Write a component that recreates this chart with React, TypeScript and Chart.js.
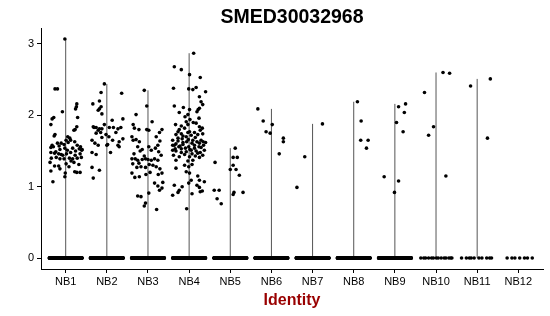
import React, { useEffect, useRef } from 'react';
import { Chart, registerables } from 'chart.js';

Chart.register(...registerables);

const chartTitle = 'SMED30032968';
const xAxisTitle = 'Identity';
const categories = ['NB1', 'NB2', 'NB3', 'NB4', 'NB5', 'NB6', 'NB7', 'NB8', 'NB9', 'NB10', 'NB11', 'NB12'];
const yTicks = [0, 1, 2, 3];

// number of cells with zero expression per identity
const zeroCounts = [320, 320, 320, 320, 300, 280, 280, 280, 280, 14, 10, 7];

// non-zero cells: [jitter (category units), expression value]
const nb1Points: [number, number][] = [
  [-0.02, 3.07], [-0.26, 2.37], [-0.2, 2.37], [0.27, 2.16], [0.26, 2.12], [0.24, 2.09], [-0.08, 2.05],
  [-0.29, 1.97], [-0.33, 1.95], [-0.36, 1.87], [0.29, 1.97], [0.27, 1.84], [0.23, 1.8], [0.2, 1.79],
  [-0.26, 1.73], [-0.28, 1.71], [0.05, 1.7], [0.1, 1.68], [0.01, 1.65], [0.12, 1.65], [-0.2, 1.61],
  [-0.11, 1.61], [-0.04, 1.59], [-0.33, 1.58], [-0.3, 1.56], [-0.36, 1.55], [0.22, 1.63], [0.28, 1.58],
  [0.36, 1.56], [-0.14, 1.52], [-0.02, 1.54], [0.04, 1.51], [0.17, 1.54], [0.24, 1.5], [0.33, 1.53],
  [0.39, 1.51], [0.4, 1.52], [-0.36, 1.48], [-0.27, 1.47], [-0.17, 1.46], [-0.07, 1.44], [0.02, 1.46],
  [0.12, 1.48], [0.23, 1.44], [0.35, 1.46], [-0.35, 1.4], [-0.23, 1.41], [-0.14, 1.39], [-0.04, 1.39],
  [0.09, 1.4], [0.17, 1.39], [0.28, 1.4], [0.38, 1.41], [-0.38, 1.34], [-0.27, 1.29], [-0.17, 1.29],
  [0.01, 1.32], [0.08, 1.28], [0.2, 1.34], [0.32, 1.31], [-0.36, 1.22], [-0.01, 1.19], [-0.02, 1.14],
  [0.22, 1.21], [0.27, 1.2], [0.35, 1.2], [-0.31, 1.07], [-0.16, 1.57], [0.06, 1.62], [-0.11, 1.45],
  [0.13, 1.36], [-0.24, 1.49], [-0.14, 1.25],
];
const nb2Points: [number, number][] = [
  [-0.06, 2.44], [-0.14, 2.32], [0.36, 2.31], [-0.18, 2.2], [-0.34, 2.16], [-0.14, 2.12], [-0.18, 2.09],
  [-0.21, 2.07], [-0.12, 2.02], [0.39, 1.95], [0.13, 1.93], [-0.06, 1.87], [-0.31, 1.83], [-0.26, 1.83],
  [-0.18, 1.81], [-0.21, 1.79], [-0.12, 1.81], [0.06, 1.83], [0.16, 1.83], [0.27, 1.81], [0.34, 1.83],
  [-0.33, 1.84], [-0.15, 1.76], [-0.02, 1.73], [0.22, 1.76], [-0.26, 1.75], [-0.12, 1.69], [0.05, 1.7],
  [0.14, 1.65], [0.39, 1.67], [0.3, 1.63], [-0.36, 1.65], [-0.29, 1.61], [-0.21, 1.58], [0.02, 1.59],
  [0.0, 1.58], [0.27, 1.58], [0.3, 1.56], [0.09, 1.48], [-0.26, 1.45], [-0.36, 1.48], [-0.36, 1.27],
  [-0.18, 1.23], [-0.33, 1.12],
];
const nb3Points: [number, number][] = [
  [-0.09, 2.35], [-0.03, 2.13], [-0.29, 2.01], [0.1, 1.91], [-0.36, 1.87], [-0.33, 1.82], [-0.22, 1.8],
  [0.34, 1.8], [0.28, 1.76], [-0.03, 1.8], [0.02, 1.79], [-0.39, 1.7], [-0.29, 1.66], [-0.21, 1.63],
  [-0.36, 1.65], [0.2, 1.7], [0.29, 1.64], [0.24, 1.58], [-0.25, 1.56], [-0.14, 1.52], [-0.19, 1.5],
  [0.02, 1.56], [0.08, 1.51], [0.18, 1.54], [0.26, 1.49], [0.32, 1.44], [-0.39, 1.39], [-0.31, 1.39],
  [-0.25, 1.37], [-0.14, 1.38], [-0.06, 1.39], [0.0, 1.38], [0.08, 1.37], [0.16, 1.39], [0.24, 1.37],
  [-0.37, 1.32], [-0.27, 1.27], [-0.17, 1.28], [-0.06, 1.27], [0.03, 1.31], [0.12, 1.3], [0.2, 1.28],
  [-0.39, 1.19], [-0.32, 1.13], [-0.21, 1.14], [-0.05, 1.17], [0.05, 1.2], [0.25, 1.17], [0.34, 1.19],
  [0.16, 1.05], [0.24, 1.01], [0.28, 0.95], [0.34, 0.98], [0.02, 0.91], [-0.25, 0.87], [-0.17, 0.86],
  [-0.09, 0.73], [-0.06, 0.77], [0.21, 0.68], [-0.34, 1.46], [-0.09, 1.43], [-0.22, 1.33], [0.29, 1.25],
  [0.36, 1.06],
];
const nb4Points: [number, number][] = [
  [0.11, 2.87], [-0.36, 2.68], [-0.19, 2.64], [0.01, 2.57], [0.27, 2.53], [-0.38, 2.38], [-0.01, 2.37],
  [0.09, 2.36], [0.17, 2.39], [0.4, 2.33], [0.25, 2.26], [-0.36, 2.13], [-0.14, 2.11], [-0.24, 2.04],
  [0.01, 2.08], [-0.03, 2.01], [0.29, 2.19], [0.33, 2.15], [0.25, 2.1], [0.22, 2.08], [0.19, 2.05],
  [-0.33, 1.87], [-0.07, 1.91], [0.02, 1.94], [-0.03, 1.87], [0.24, 1.96], [0.17, 1.89], [0.25, 1.84],
  [0.32, 1.82], [-0.24, 1.8], [-0.11, 1.82], [0.01, 1.77], [0.13, 1.76], [-0.32, 1.73], [-0.19, 1.74],
  [-0.07, 1.7], [0.05, 1.72], [0.21, 1.73], [0.33, 1.74], [-0.4, 1.65], [-0.27, 1.64], [-0.17, 1.67],
  [-0.06, 1.63], [0.09, 1.65], [0.19, 1.63], [0.29, 1.65], [0.4, 1.62], [-0.36, 1.58], [-0.25, 1.56],
  [-0.15, 1.59], [-0.01, 1.56], [0.13, 1.58], [0.24, 1.56], [0.35, 1.58], [-0.4, 1.51], [-0.32, 1.5],
  [-0.19, 1.53], [-0.07, 1.49], [0.05, 1.51], [0.17, 1.5], [0.27, 1.48], [0.37, 1.51], [-0.38, 1.44],
  [-0.24, 1.42], [-0.11, 1.45], [0.01, 1.42], [0.15, 1.43], [0.25, 1.41], [-0.32, 1.37], [-0.03, 1.36],
  [0.09, 1.37], [-0.27, 1.77], [-0.15, 1.62], [0.07, 1.61], [0.25, 1.61], [-0.03, 1.76], [-0.19, 1.48],
  [0.21, 1.47], [0.33, 1.44], [-0.4, 1.58], [-0.09, 1.54], [0.13, 1.54], [-0.27, 1.68], [0.15, 1.69],
  [-0.32, 1.6], [0.29, 1.55], [0.02, 1.52], [-0.02, 1.66], [-0.15, 1.71], [0.07, 1.46], [-0.22, 1.57],
  [0.34, 1.63], [0.27, 1.79], [-0.19, 1.85], [0.1, 1.9], [-0.1, 1.98], [-0.34, 1.53], [-0.11, 1.3],
  [-0.01, 1.28], [0.07, 1.31], [-0.32, 1.26], [-0.07, 1.21], [0.01, 1.19], [-0.36, 1.02], [-0.17, 1.0],
  [-0.24, 0.95], [-0.27, 0.92], [0.05, 1.09], [-0.01, 1.05], [0.21, 1.15], [0.25, 1.09], [0.19, 1.02],
  [0.25, 0.99], [0.32, 0.94], [-0.4, 0.88], [-0.06, 0.69], [0.07, 0.9], [0.37, 1.07], [0.27, 0.93],
];
const nb5Points: [number, number][] = [
  [0.12, 1.54], [0.07, 1.41], [0.17, 1.41], [-0.37, 1.34], [0.07, 1.3], [0.0, 1.24], [0.14, 1.24],
  [0.22, 1.16], [-0.39, 0.95], [-0.27, 0.95], [0.31, 0.92], [0.09, 0.92], [0.07, 0.89], [-0.32, 0.83],
  [-0.22, 0.76],
];
const nb6Points: [number, number][] = [
  [-0.33, 2.09], [-0.2, 1.92], [-0.13, 1.77], [-0.03, 1.75], [0.02, 1.87], [0.29, 1.68], [0.29, 1.63], [0.19, 1.46],
];
const nb7Points: [number, number][] = [[-0.38, 0.99], [-0.19, 1.42], [0.24, 1.88]];
const nb8Points: [number, number][] = [[0.09, 2.19], [0.18, 1.92], [0.17, 1.65], [0.35, 1.65], [0.31, 1.54]];
const nb9Points: [number, number][] = [
  [-0.26, 1.14], [0.09, 2.12], [0.26, 2.16], [0.23, 2.04], [0.04, 1.9], [0.2, 1.77], [0.09, 1.08], [-0.01, 0.92],
];
const nb10Points: [number, number][] = [[-0.28, 2.32], [0.17, 2.6], [0.33, 2.59], [-0.06, 1.84], [-0.18, 1.72], [0.24, 1.15]];
const nb11Points: [number, number][] = [[-0.16, 2.41], [0.32, 2.51], [0.25, 1.68]];
const nb12Points: [number, number][] = [];

const groups = [nb1Points, nb2Points, nb3Points, nb4Points, nb5Points, nb6Points, nb7Points, nb8Points, nb9Points, nb10Points, nb11Points, nb12Points];

const FONT = '"Liberation Sans", Arial, Helvetica, sans-serif';

export default function App() {
  const ref = useRef<HTMLCanvasElement>(null);

  useEffect(() => {
    const canvas = ref.current;
    if (!canvas) return;
    Chart.defaults.font.family = FONT;

    const points: { x: number; y: number }[] = [];
    groups.forEach((g, i) => {
      const n = zeroCounts[i];
      for (let k = 0; k < n; k++) {
        const u = ((k + 1) * 0.6180339887 + i * 0.37) % 1;
        points.push({ x: i + 1 + (u - 0.5) * 0.8, y: 0 });
      }
      g.forEach(([j, v]) => points.push({ x: i + 1 + j, y: v }));
    });

    const allValues = groups.flat().map((p) => p[1]);
    const yMaxData = Math.max(0, ...allValues);
    const yPad = yMaxData * 0.05;

    const violinSets = groups.map((g, i) => {
      const mx = g.length ? Math.max(...g.map((p) => p[1])) : 0;
      return {
        type: 'scatter' as const,
        data: mx > 0 ? [{ x: i + 1, y: 0 }, { x: i + 1, y: mx }] : [],
        showLine: true,
        borderColor: '#555555',
        borderWidth: 1,
        pointRadius: 0,
        order: 2,
      };
    });

    const textPlugin = {
      id: 'texts',
      afterDraw(chart: any) {
        const { ctx, chartArea } = chart;
        const cx = (chartArea.left + chartArea.right) / 2;
        ctx.save();
        ctx.textAlign = 'center';
        ctx.textBaseline = 'alphabetic';
        ctx.fillStyle = '#000';
        ctx.font = `bold 19.5px ${FONT}`;
        ctx.fillText(chartTitle, cx, 23);
        ctx.fillStyle = '#990000';
        ctx.font = `bold 16px ${FONT}`;
        ctx.fillText(xAxisTitle, cx, 305);
        ctx.restore();
      },
    };

    const chart = new Chart(canvas, {
      type: 'scatter',
      data: {
        datasets: [
          {
            data: points,
            pointRadius: 1.8,
            pointBackgroundColor: '#000',
            pointBorderWidth: 0,
            order: 1,
          } as any,
          ...violinSets,
        ],
      },
      options: {
        responsive: false,
        animation: false,
        layout: { padding: { top: 28, right: 7, left: 0, bottom: 0 } },
        plugins: { legend: { display: false }, tooltip: { enabled: false } },
        scales: {
          x: {
            type: 'linear',
            min: 0.4,
            max: categories.length + 0.6,
            afterBuildTicks: (s: any) => {
              s.ticks = categories.map((_, i) => ({ value: i + 1 }));
            },
            afterFit: (s: any) => {
              s.height = 47;
            },
            ticks: {
              callback: (v: any) => categories[Math.round(Number(v)) - 1] ?? '',
              color: '#000',
              font: { size: 11 },
              padding: 2,
              autoSkip: false,
              maxRotation: 0,
            },
            grid: { display: true, drawOnChartArea: false, drawTicks: true, tickLength: 4, color: '#000', lineWidth: 1 },
            border: { display: true, color: '#000', width: 1 },
          },
          y: {
            type: 'linear',
            min: -yPad,
            max: yMaxData + yPad,
            afterBuildTicks: (s: any) => {
              s.ticks = yTicks.map((v) => ({ value: v }));
            },
            afterFit: (s: any) => {
              s.width = 41;
            },
            ticks: { color: '#000', font: { size: 11 }, padding: 3 },
            grid: { display: true, drawOnChartArea: false, drawTicks: true, tickLength: 4, color: '#000', lineWidth: 1 },
            border: { display: true, color: '#000', width: 1 },
          },
        },
      },
      plugins: [textPlugin],
    });
    return () => chart.destroy();
  }, []);

  return (
    <div style={{ position: 'fixed', left: 0, top: 0, width: 550, height: 316, background: '#fff' }}>
      <canvas ref={ref} width={550} height={316} style={{ display: 'block' }} />
    </div>
  );
}
